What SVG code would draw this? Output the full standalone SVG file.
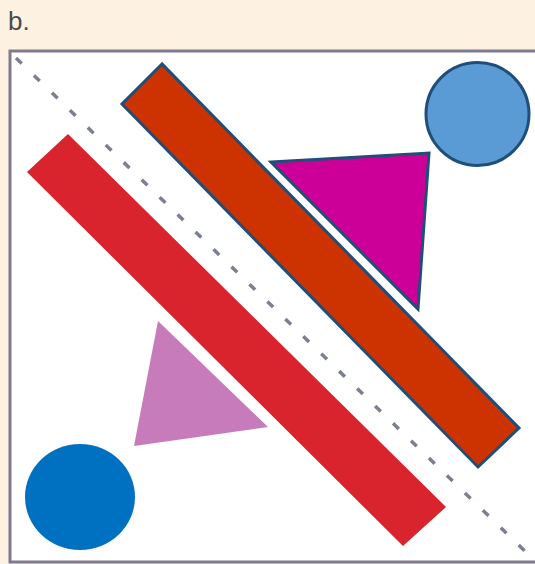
<svg xmlns="http://www.w3.org/2000/svg" width="535" height="564" viewBox="0 0 535 564">
<style>
.lbl{font-family:"Liberation Sans",Arial,sans-serif;font-size:26px;fill:#4a4a4a}
.ol{stroke:#1f4e79;stroke-width:3;stroke-linejoin:miter}
</style>
<rect x="0" y="0" width="535" height="564" fill="#fdf1e2"/>
<rect x="10" y="51" width="530" height="511" fill="#ffffff" stroke="#7e7a90" stroke-width="3"/>
<text class="lbl" x="8" y="30">b.</text>
<g id="connectors">
<line x1="16" y1="58" x2="530" y2="556" stroke="#7a8090" stroke-width="3.5" stroke-dasharray="8 17"/>
</g>
<g id="red-bar"><polygon points="68,134 27,172 403,546 446,507" fill="#d9232d"/></g>
<g id="orange-bar"><polygon class="ol" points="162,64 122,104 478,467 519,428" fill="#cc3300"/></g>
<g id="magenta-triangle"><polygon class="ol" points="271,162 429,153 418,309" fill="#cc0099"/></g>
<g id="pink-triangle"><polygon points="158,321 134,446 268,427" fill="#c77bba"/></g>
<g id="light-circle"><circle class="ol" cx="477.5" cy="114" r="51.5" fill="#5b9bd5"/></g>
<g id="dark-circle"><ellipse cx="80" cy="497" rx="55" ry="53" fill="#0070c0"/></g>
</svg>
